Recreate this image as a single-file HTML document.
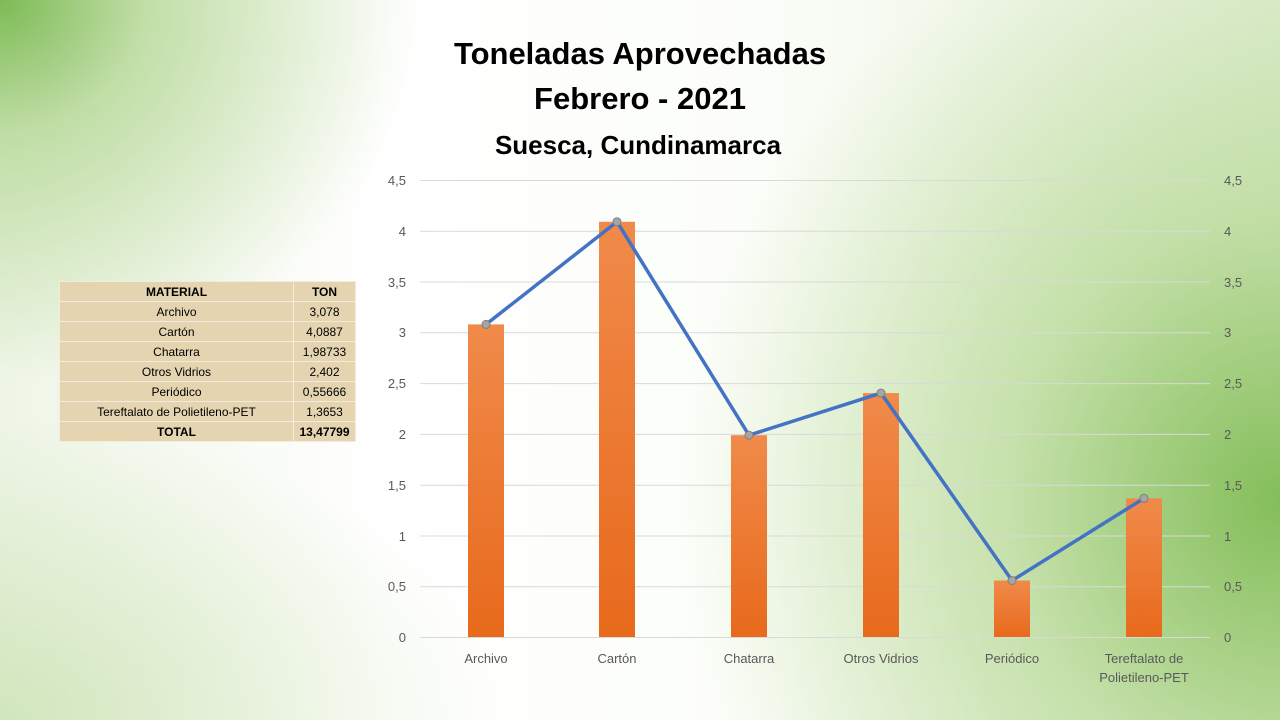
<!DOCTYPE html>
<html><head><meta charset="utf-8"><style>
body{margin:0;width:1280px;height:720px;overflow:hidden;font-family:"Liberation Sans",sans-serif;}
.bg{position:absolute;inset:0;background:
radial-gradient(ellipse 420px 380px at 0px 0px,#7dbb55 0%,rgba(160,205,120,0.6) 35%,rgba(255,255,255,0) 100%),
radial-gradient(ellipse 600px 620px at 1280px 500px,#84be5a 0%,rgba(170,210,130,0.6) 45%,rgba(255,255,255,0) 100%),
radial-gradient(ellipse 500px 300px at 0px 720px,rgba(190,220,160,0.6) 0%,rgba(255,255,255,0) 100%),
linear-gradient(90deg,#eef5e6 0%,#ffffff 30%,#fbfdf8 60%,#e4f0d8 100%);}
table{position:absolute;left:59px;top:281px;border-collapse:collapse;font-size:12px;background:#e4d5b0;}
td{height:19px;padding:0;text-align:center;border:1px solid #f3ecdc;color:#000;}
td.a{width:233px}td.b{width:61px}
tr.h td{font-weight:bold}
</style></head><body><div class="bg"></div>
<table>
<tr class="h"><td class="a">MATERIAL</td><td class="b">TON</td></tr>
<tr><td class="a">Archivo</td><td class="b">3,078</td></tr>
<tr><td class="a">Cartón</td><td class="b">4,0887</td></tr>
<tr><td class="a">Chatarra</td><td class="b">1,98733</td></tr>
<tr><td class="a">Otros Vidrios</td><td class="b">2,402</td></tr>
<tr><td class="a">Periódico</td><td class="b">0,55666</td></tr>
<tr><td class="a">Tereftalato de Polietileno-PET</td><td class="b">1,3653</td></tr>
<tr class="h"><td class="a">TOTAL</td><td class="b">13,47799</td></tr>
</table>
<svg width="1280" height="720" style="position:absolute;left:0;top:0" font-family="Liberation Sans, sans-serif">
<defs><linearGradient id="g" x1="0" y1="0" x2="0" y2="1"><stop offset="0" stop-color="#f08a4a"/><stop offset="1" stop-color="#e86a1c"/></linearGradient></defs>
<g font-weight="bold" fill="#000" text-anchor="middle">
<text x="640" y="64" font-size="31">Toneladas Aprovechadas</text>
<text x="640" y="109" font-size="31">Febrero - 2021</text>
<text x="638" y="154" font-size="26">Suesca, Cundinamarca</text>
</g>
<g stroke="#d9d9d9" stroke-width="1">
<line x1="420" x2="1210" y1="180.5" y2="180.5"/><line x1="420" x2="1210" y1="231.3" y2="231.3"/><line x1="420" x2="1210" y1="282" y2="282"/><line x1="420" x2="1210" y1="332.8" y2="332.8"/><line x1="420" x2="1210" y1="383.6" y2="383.6"/><line x1="420" x2="1210" y1="434.4" y2="434.4"/><line x1="420" x2="1210" y1="485.2" y2="485.2"/><line x1="420" x2="1210" y1="536" y2="536"/><line x1="420" x2="1210" y1="586.7" y2="586.7"/><line x1="420" x2="1210" y1="637.5" y2="637.5"/>
</g>
<g font-size="13" fill="#595959">
<g text-anchor="end">
<text x="406" y="185">4,5</text><text x="406" y="236">4</text><text x="406" y="287">3,5</text><text x="406" y="337">3</text><text x="406" y="388">2,5</text><text x="406" y="439">2</text><text x="406" y="490">1,5</text><text x="406" y="541">1</text><text x="406" y="591">0,5</text><text x="406" y="642">0</text>
</g>
<g text-anchor="start">
<text x="1224" y="185">4,5</text><text x="1224" y="236">4</text><text x="1224" y="287">3,5</text><text x="1224" y="337">3</text><text x="1224" y="388">2,5</text><text x="1224" y="439">2</text><text x="1224" y="490">1,5</text><text x="1224" y="541">1</text><text x="1224" y="591">0,5</text><text x="1224" y="642">0</text>
</g>
<g text-anchor="middle">
<text x="486" y="663">Archivo</text><text x="617" y="663">Cartón</text><text x="749" y="663">Chatarra</text><text x="881" y="663">Otros Vidrios</text><text x="1012" y="663">Periódico</text><text x="1144" y="663">Tereftalato de</text><text x="1144" y="682">Polietileno-PET</text>
</g></g>
<g fill="url(#g)">
<rect x="468" y="324.4" width="36" height="312.6"/><rect x="599" y="221.8" width="36" height="415.2"/><rect x="731" y="435.2" width="36" height="201.8"/><rect x="863" y="393.1" width="36" height="243.9"/><rect x="994" y="580.5" width="36" height="56.5"/><rect x="1126" y="498.3" width="36" height="138.7"/>
</g>
<polyline points="486,324.4 617,221.8 749,435.2 881,393.1 1012,580.5 1144,498.3" fill="none" stroke="#4472c4" stroke-width="3.5" stroke-linejoin="round"/>
<g fill="#a5a5a5" stroke="#7f7f7f" stroke-width="1">
<circle cx="486" cy="324.4" r="4"/><circle cx="617" cy="221.8" r="4"/><circle cx="749" cy="435.2" r="4"/><circle cx="881" cy="393.1" r="4"/><circle cx="1012" cy="580.5" r="4"/><circle cx="1144" cy="498.3" r="4"/>
</g>
</svg>
</body></html>
